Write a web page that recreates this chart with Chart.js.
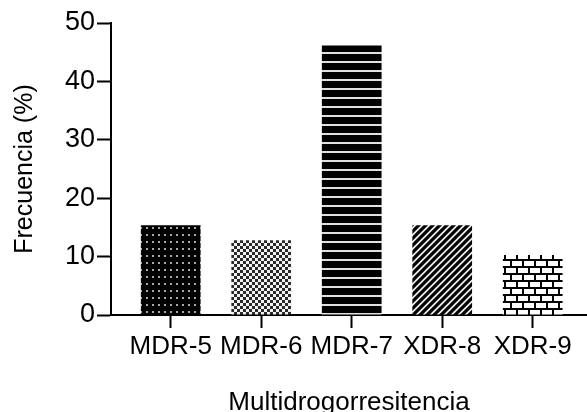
<!DOCTYPE html>
<html>
<head>
<meta charset="utf-8">
<script src="https://cdn.jsdelivr.net/npm/chart.js@4"></script>
<style>
  body { margin: 0; background: #fff; }
</style>
</head>
<body>
<canvas id="myChart" width="587" height="412"></canvas>
<script>
const categories = ['MDR-5', 'MDR-6', 'MDR-7', 'XDR-8', 'XDR-9'];
const frecuencia = [15.38, 12.82, 46.15, 15.38, 10.26];
const yTicks = [0, 10, 20, 30, 40, 50];

const FONT = "'Liberation Sans', Arial, sans-serif";

function tile(w, h, draw) {
    const c = document.createElement('canvas');
    c.width = w;
    c.height = h;
    const g = c.getContext('2d');
    draw(g);
    return g.createPattern(c, 'repeat');
}

// fill patterns, one per bar
const dots = tile(6, 7, g => {
    g.fillStyle = '#000';
    g.fillRect(0, 0, 6, 7);
    g.fillStyle = '#a8a8a8';
    g.fillRect(2, 3, 2, 2);
});
const checker = tile(6, 6, g => {
    g.fillStyle = '#f2f2f2';
    g.fillRect(0, 0, 6, 6);
    g.fillStyle = '#2a2a2a';
    g.fillRect(0, 0, 3, 3);
    g.fillRect(3, 3, 3, 3);
});
const stripes = tile(1, 9, g => {
    g.fillStyle = '#000';
    g.fillRect(0, 0, 1, 7);
    g.fillStyle = '#e0e0e0';
    g.fillRect(0, 7, 1, 2);
});
const diagonal = tile(7, 7, g => {
    g.fillStyle = '#eee';
    g.fillRect(0, 0, 7, 7);
    g.strokeStyle = '#000';
    g.lineWidth = 3.2;
    g.beginPath();
    g.moveTo(-1, 8); g.lineTo(8, -1);
    g.moveTo(-2, 2); g.lineTo(2, -2);
    g.moveTo(5, 9); g.lineTo(9, 5);
    g.stroke();
});
const bricks = tile(12, 14, g => {
    g.fillStyle = '#fff';
    g.fillRect(0, 0, 12, 14);
    g.fillStyle = '#000';
    g.fillRect(0, 0, 12, 2);
    g.fillRect(0, 7, 12, 2);
    g.fillRect(0, 2, 2, 5);
    g.fillRect(6, 9, 2, 5);
});
const fills = [dots, checker, stripes, diagonal, bricks];

const points = categories.map((c, i) => ({ x: i + 1, y: frecuencia[i] }));

const ctx = document.getElementById('myChart').getContext('2d');
new Chart(ctx, {
    type: 'bar',
    data: {
        datasets: [{
            label: 'Frecuencia (%)',
            data: points,
            backgroundColor: fills,
            borderWidth: 0,
            categoryPercentage: 1,
            barPercentage: 0.66
        }]
    },
    options: {
        responsive: false,
        animation: false,
        layout: { padding: { top: 23, right: 0, left: 0, bottom: 0 } },
        plugins: {
            legend: { display: false },
            tooltip: { enabled: false }
        },
        scales: {
            x: {
                type: 'linear',
                offset: false,
                min: 0.34,
                max: 5.6,
                afterBuildTicks: scale => {
                    scale.ticks = categories.map((c, i) => ({ value: i + 1 }));
                },
                afterFit: scale => { scale.height = 97; },
                ticks: {
                    color: '#000',
                    font: { family: FONT, size: 26 },
                    padding: 3,
                    maxRotation: 0,
                    autoSkip: false,
                    callback: v => categories[v - 1]
                },
                grid: {
                    offset: false,
                    drawOnChartArea: false,
                    drawTicks: true,
                    tickLength: 13,
                    tickWidth: 2,
                    tickColor: '#000'
                },
                border: { display: true, color: '#000', width: 2 },
                title: {
                    display: true,
                    text: 'Multidrogorresitencia',
                    color: '#000',
                    font: { family: FONT, size: 26, lineHeight: 0.7 },
                    padding: { top: 0, bottom: 0 }
                }
            },
            y: {
                min: 0,
                max: 50,
                afterBuildTicks: scale => {
                    scale.ticks = yTicks.map(v => ({ value: v }));
                },
                afterFit: scale => { scale.width = 111; },
                ticks: {
                    color: '#000',
                    font: { family: FONT, size: 27 },
                    padding: 2
                },
                grid: {
                    drawOnChartArea: false,
                    drawTicks: true,
                    tickLength: 14,
                    tickWidth: 2,
                    tickColor: '#000'
                },
                border: { display: true, color: '#000', width: 2 },
                title: {
                    display: true,
                    text: 'Frecuencia (%)',
                    color: '#000',
                    font: { family: FONT, size: 25, lineHeight: 1.2 },
                    padding: { top: 10, bottom: 0 }
                }
            }
        }
    }
});
</script>
</body>
</html>
